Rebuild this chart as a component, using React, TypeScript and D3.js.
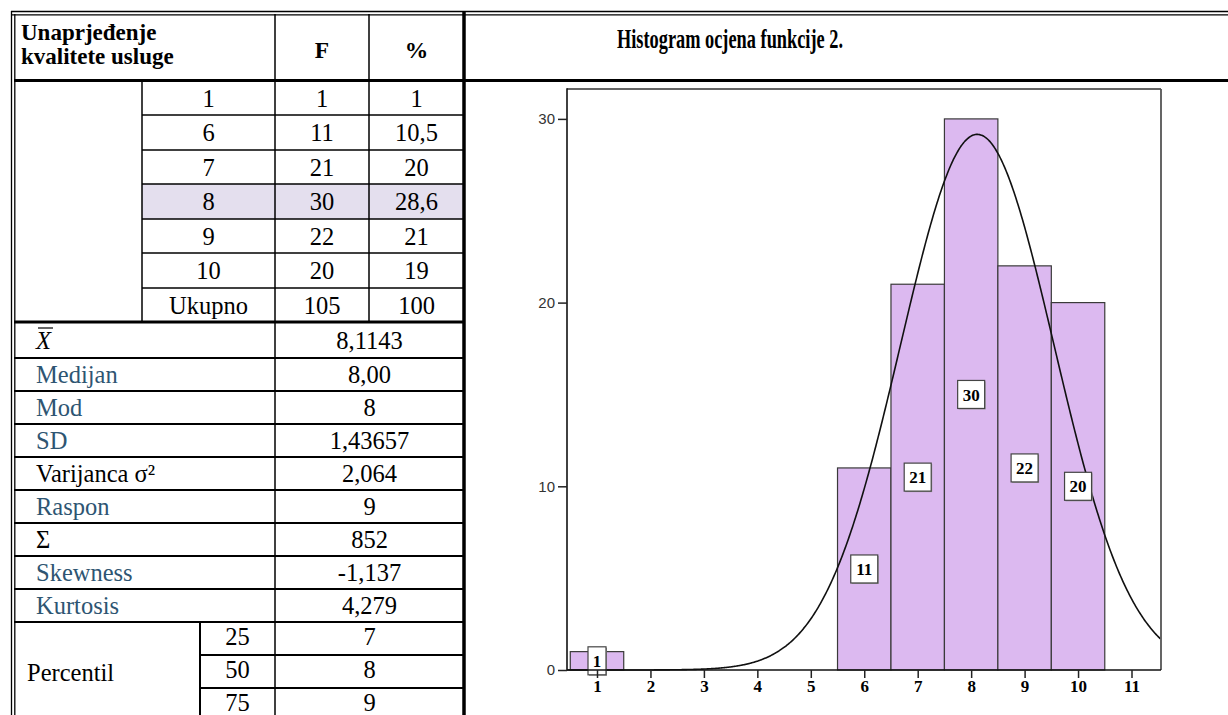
import * as d3 from "d3"
import React, { useEffect, useRef } from "react"

// table: frequency part
const gradeLabels = ["1", "6", "7", "8", "9", "10", "Ukupno"]
const freqLabels = ["1", "11", "21", "30", "22", "20", "105"]
const pctLabels = ["1", "10,5", "20", "28,6", "21", "19", "100"]

// table: descriptive stats
const statLabels = ["X", "Medijan", "Mod", "SD", "Varijanca σ²", "Raspon", "Σ", "Skewness", "Kurtosis"]
const statValues = ["8,1143", "8,00", "8", "1,43657", "2,064", "9", "852", "-1,137", "4,279"]
const statBlue = [false, true, true, true, false, true, false, true, true]

const percentiles = ["25", "50", "75"]
const percentileValues = ["7", "8", "9"]

// histogram
const grades = [1, 6, 7, 8, 9, 10]
const counts = [1, 11, 21, 30, 22, 20]
const yTicks = [0, 10, 20, 30]
const xTicks = [1, 2, 3, 4, 5, 6, 7, 8, 9, 10, 11]
const mean = 8.1143
const sd = 1.43657
const total = 105

const SERIF = "'Liberation Serif', 'Times New Roman', serif"
const SANS = "'Liberation Sans', Arial, sans-serif"

const App = () => {
    const svgRef = useRef(null)

    useEffect(() => {
        const W = 1228, H = 715
        const svg = d3.select(svgRef.current).attr("width", W).attr("height", H)
        svg.selectAll("*").remove()

        // ---------- table ----------
        const fs = 24.5
        const upperRows = [81, 115, 150, 184, 219, 253, 288, 322]
        const statRows = [322, 358, 391, 424, 457, 490, 523, 556, 589, 622]
        const pRows = [622, 655, 688, 721]
        const cA = 142, cB = 275, cC = 369, cD = 464, cP = 200

        // highlighted row (8)
        svg.append("rect").attr("x", cA).attr("y", upperRows[3]).attr("width", cD - cA)
            .attr("height", upperRows[4] - upperRows[3]).attr("fill", "#e4dfee")

        const line = (x1, y1, x2, y2, w = 1.4, c = "#000") =>
            svg.append("line").attr("x1", x1).attr("y1", y1).attr("x2", x2).attr("y2", y2)
                .attr("stroke", c).attr("stroke-width", w)

        // outer double borders
        line(11, 11.5, W, 11.5, 1.3)
        line(11, 14.8, W, 14.8, 1.3)
        line(11.5, 11, 11.5, H, 1.3)
        line(14.8, 14, 14.8, H, 1.3)
        // header bottom
        line(14, 80.5, W, 80.5, 3)
        // verticals
        line(cB, 14, cB, H, 1.5)
        line(cC, 14, cC, 322, 1.5)
        line(cA, 81, cA, 322, 1.5)
        line(cD, 11, cD, H, 3.5)
        // upper rows
        upperRows.slice(1, -1).forEach(y => line(cA, y, cD, y, 1.4))
        line(14, 322, cD, 322, 3)
        statRows.slice(1).forEach(y => line(14, y, cD, y, 2))
        pRows.slice(1, -1).forEach(y => line(cP, y, cD, y, 2))
        line(cP, 622, cP, H, 2)

        const txt = (x, y, s, opts: any = {}) =>
            svg.append("text").attr("x", x).attr("y", y).attr("dy", "0.35em")
                .attr("font-family", SERIF).attr("font-size", opts.size ?? fs)
                .attr("font-weight", opts.bold ? "bold" : "normal")
                .attr("font-style", opts.italic ? "italic" : "normal")
                .attr("fill", opts.fill ?? "#000")
                .attr("text-anchor", opts.anchor ?? "middle").text(s)

        // header
        svg.append("text").attr("x", 21).attr("y", 40).attr("font-family", SERIF).attr("font-size", 23)
            .attr("font-weight", "bold").text("Unaprjeđenje")
        svg.append("text").attr("x", 21).attr("y", 64).attr("font-family", SERIF).attr("font-size", 23)
            .attr("font-weight", "bold").text("kvalitete usluge")
        txt((cB + cC) / 2, 50, "F", { bold: true, size: 23.5 })
        txt((cC + cD) / 2, 50, "%", { bold: true, size: 23.5 })

        gradeLabels.forEach((g, i) => {
            const yc = (upperRows[i] + upperRows[i + 1]) / 2
            txt((cA + cB) / 2, yc, g)
            txt((cB + cC) / 2, yc, freqLabels[i])
            txt((cC + cD) / 2, yc, pctLabels[i])
        })

        statLabels.forEach((l, i) => {
            const yc = (statRows[i] + statRows[i + 1]) / 2
            if (i === 0) {
                txt(36, yc, l, { anchor: "start", italic: true })
                line(38, yc - 12, 53, yc - 12, 1.2)
            } else {
                txt(36, yc, l, { anchor: "start", fill: statBlue[i] ? "#2e5572" : "#000" })
            }
            txt((cB + cD) / 2, yc, statValues[i])
        })

        txt(27, 672, "Percentil", { anchor: "start" })
        percentiles.forEach((p, i) => {
            const yc = (pRows[i] + pRows[i + 1]) / 2 - 2
            txt((cP + cB) / 2, yc, p)
            txt((cB + cD) / 2, yc, percentileValues[i])
        })

        // ---------- histogram ----------
        svg.append("text").attr("x", 730).attr("y", 48).attr("text-anchor", "middle")
            .attr("font-family", SERIF).attr("font-size", 27).attr("font-weight", "bold")
            .attr("textLength", 226).attr("lengthAdjust", "spacingAndGlyphs")
            .text("Histogram ocjena funkcije 2.")

        const fL = 567, fR = 1161, fT = 89, fB = 670
        const x = d3.scaleLinear().domain([1, 11]).range([597, 1131.5])
        const y = d3.scaleLinear().domain([0, 30]).range([fB, fB - 30 * 18.37])

        const g = svg.append("g")

        g.selectAll(".bar").data(grades).join("rect").attr("class", "bar")
            .attr("x", d => x(d - 0.5)).attr("width", d => x(d + 0.5) - x(d - 0.5))
            .attr("y", (d, i) => y(counts[i])).attr("height", (d, i) => y(0) - y(counts[i]))
            .attr("fill", "#dcb9f0").attr("stroke", "#3a3a3a").attr("stroke-width", 1.2)

        // fitted normal curve from the shown mean / SD / N
        const dens = v => total / (sd * Math.sqrt(2 * Math.PI)) * Math.exp(-0.5 * ((v - mean) / sd) ** 2)
        const xs = d3.range(x.invert(fL), x.invert(fR) + 0.001, 0.02)
        g.append("path").datum(xs)
            .attr("d", d3.line<number>().x(d => x(d)).y(d => y(dens(d))).curve(d3.curveBasis))
            .attr("fill", "none").attr("stroke", "#111").attr("stroke-width", 1.6)

        // frame
        line(fL, fT, fR, fT, 1.8, "#666")
        line(fR, fT, fR, fB, 1.8, "#555")
        line(fL, fT - 0.8, fL, fB, 1.6, "#111")
        line(fL, fB, fR, fB, 1.6, "#111")

        // boxed count labels at half height of each bar
        grades.forEach((gv, i) => {
            const s = String(counts[i])
            const bw = 9 + 9 * s.length, bh = 28
            const cx = x(gv), cy = y(counts[i] / 2)
            g.append("rect").attr("x", cx - bw / 2 + 1).attr("y", cy - bh / 2 + 1).attr("width", bw).attr("height", bh)
                .attr("fill", "#999")
            g.append("rect").attr("x", cx - bw / 2).attr("y", cy - bh / 2).attr("width", bw).attr("height", bh)
                .attr("fill", "#fff").attr("stroke", "#444").attr("stroke-width", 1.2)
            g.append("text").attr("x", cx).attr("y", cy).attr("dy", "0.36em").attr("text-anchor", "middle")
                .attr("font-family", SERIF).attr("font-weight", "bold").attr("font-size", 17).text(s)
        })

        // axes
        const ya = svg.append("g").attr("transform", `translate(${fL},0)`)
            .call(d3.axisLeft(y).tickValues(yTicks).tickSize(9).tickPadding(3))
        ya.select(".domain").remove()
        ya.selectAll("line").attr("stroke", "#222").attr("stroke-width", 1.5)
        ya.selectAll("text").attr("font-family", SANS).attr("font-size", 15).attr("fill", "#333")

        const xa = svg.append("g").attr("transform", `translate(0,${fB})`)
            .call(d3.axisBottom(x).tickValues(xTicks).tickSize(8).tickPadding(2))
        xa.select(".domain").remove()
        xa.selectAll("line").attr("stroke", "#222").attr("stroke-width", 1.5)
        xa.selectAll("text").attr("font-family", SERIF).attr("font-weight", "bold").attr("font-size", 17).attr("fill", "#000")
    }, [])

    return <svg ref={svgRef} style={{ position: "absolute", left: 0, top: 0, background: "#fff" }}></svg>
}

export default App
